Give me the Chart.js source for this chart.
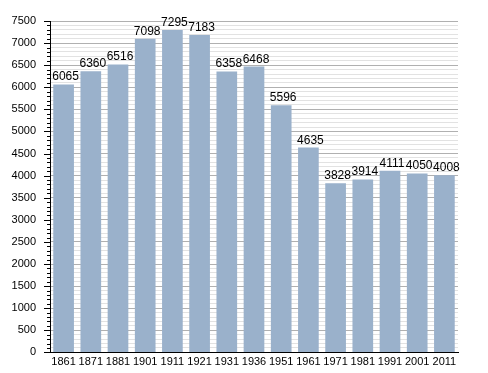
<!DOCTYPE html>
<html><head><meta charset="utf-8">
<script src="https://cdn.jsdelivr.net/npm/chart.js@4"></script>
<style>html,body{margin:0;padding:0;background:#fff}#wrap{width:488px;height:373px}</style>
</head><body><div id="wrap"><canvas id="c" width="488" height="373"></canvas></div>
<script>
const years = ["1861","1871","1881","1901","1911","1921","1931","1936","1951","1961","1971","1981","1991","2001","2011"];
const population = [6065,6360,6516,7098,7295,7183,6358,6468,5596,4635,3828,3914,4111,4050,4008];
const yMax = 7500, yMajor = 500, yMinor = 100;

const FONT = "'Liberation Sans', Arial, sans-serif";

const labelPlugin = {
  id: 'labels',
  afterDatasetsDraw(chart) {
    const ctx = chart.ctx;
    const meta = chart.getDatasetMeta(0);
    ctx.save();
    ctx.font = "12px " + FONT;
    ctx.fillStyle = "#000";
    ctx.textAlign = "center";
    ctx.textBaseline = "alphabetic";
    meta.data.forEach((bar, i) => {
      ctx.fillText(String(population[i]), bar.x + 2, bar.y - 4);
    });
    ctx.restore();
  }
};

const tickPlugin = {
  id: 'yticks',
  afterDraw(chart) {
    const ctx = chart.ctx;
    const ys = chart.scales.y;
    const x0 = chart.chartArea.left;
    ctx.save();
    ctx.strokeStyle = "#000";
    ctx.lineWidth = 1;
    for (let v = 0; v <= yMax; v += yMinor) {
      const y = Math.round(ys.getPixelForValue(v)) + 0.5;
      const len = (v % yMajor === 0) ? 6 : 3;
      ctx.beginPath();
      ctx.moveTo(x0 - len, y);
      ctx.lineTo(x0, y);
      ctx.stroke();
    }
    ctx.restore();
  }
};

new Chart(document.getElementById('c'), {
  type: 'bar',
  data: {
    labels: years,
    datasets: [{
      data: population,
      backgroundColor: '#9ab1cb',
      borderWidth: 0,
      barPercentage: 0.76,
      categoryPercentage: 1.0
    }]
  },
  options: {
    responsive: false,
    animation: false,
    devicePixelRatio: 1,
    layout: { padding: { top: 21, right: 30, left: 0, bottom: 0 } },
    plugins: { legend: { display: false }, tooltip: { enabled: false } },
    scales: {
      x: {
        grid: { display: false, drawTicks: false },
        border: { display: true, color: '#000', width: 1 },
        ticks: { color: '#000', font: { family: FONT, size: 11 }, padding: 3, maxRotation: 0, autoSkip: false },
        afterFit(s) { s.height = 20; }
      },
      y: {
        min: 0, max: yMax,
        grid: {
          drawTicks: false,
          color: ctx => (ctx.tick && ctx.tick.value % yMajor === 0) ? '#b0b0b0' : '#e2e2e2',
          lineWidth: 1
        },
        border: { display: true, color: '#000', width: 1 },
        ticks: {
          stepSize: yMinor, autoSkip: false, padding: 14,
          color: '#000', font: { family: FONT, size: 11 },
          callback: v => (v % yMajor === 0) ? String(v) : ''
        },
        afterFit(s) { s.width = 50; }
      }
    }
  },
  plugins: [labelPlugin, tickPlugin]
});
</script></body></html>
